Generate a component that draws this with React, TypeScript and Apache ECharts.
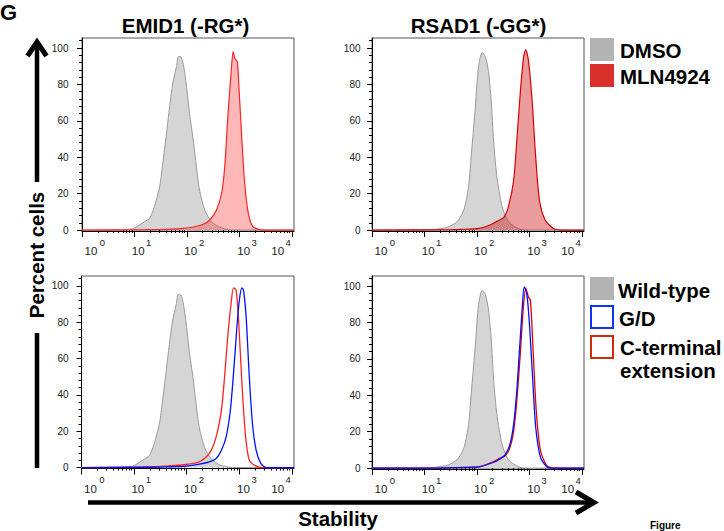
import React, { useEffect, useRef } from "react";
import * as echarts from "echarts";

// ---------- data (x = log10 of fluorescence, y = percent of max) ----------
const emidDmso: number[][] = [
  [0, 0], [0.65, 0], [0.97, 0.8], [1.13, 3.4], [1.19, 4.6], [1.29, 6.5], [1.38, 12.9],
  [1.48, 23.9], [1.54, 36.7], [1.61, 53.2], [1.67, 67.8], [1.73, 80.7], [1.8, 89.8],
  [1.84, 95.3], [1.89, 95], [1.92, 92.5], [1.96, 86], [2.0, 77], [2.05, 64], [2.12, 49.5],
  [2.18, 34.8], [2.24, 22], [2.34, 11], [2.47, 4.6], [2.63, 1.5], [2.88, 0], [4.04, 0],
];
const emidMln: number[][] = [
  [0, 0], [1.2, 0.2], [1.48, 0.3], [1.86, 0.8], [2.12, 1.7], [2.31, 3.2], [2.43, 5.4],
  [2.56, 10.9], [2.66, 20.1], [2.72, 34.8], [2.78, 62.3], [2.84, 86.1], [2.88, 98],
  [2.91, 94.3], [2.96, 92.5], [2.99, 78.8], [3.04, 53.2], [3.1, 25.7], [3.17, 9.2],
  [3.26, 1.8], [3.45, 0], [4.04, 0],
];
const rsadDmso: number[][] = [
  [0, 0], [1.0, 0], [1.17, 0.3], [1.43, 1.5], [1.62, 4.6], [1.75, 11], [1.84, 23.9],
  [1.9, 44], [1.97, 67.8], [2.03, 89.8], [2.1, 97.5], [2.16, 95.3], [2.22, 87],
  [2.27, 71.5], [2.32, 47.7], [2.38, 29.4], [2.48, 12.9], [2.6, 4.6], [2.82, 0.4],
  [3.0, 0], [4.04, 0],
];
const rsadMln: number[][] = [
  [0, 0], [1.43, 0.2], [1.68, 0.4], [2.0, 0.8], [2.19, 2.1], [2.38, 4.8], [2.51, 6.8],
  [2.6, 12.9], [2.7, 27.5], [2.76, 49.5], [2.83, 77], [2.89, 95.3], [2.93, 99],
  [2.98, 93.5], [3.05, 71.5], [3.11, 44], [3.19, 16.6], [3.3, 5.5], [3.46, 0.9],
  [3.65, 0], [4.04, 0],
];
const emidWildType = emidDmso;
const emidCterm: number[][] = [
  [0, 0], [1.17, 0.4], [1.61, 0.8], [1.99, 1.7], [2.24, 3.2], [2.43, 7.7], [2.56, 16.9],
  [2.66, 31.6], [2.72, 50], [2.78, 72], [2.85, 92], [2.89, 99], [2.94, 97.6], [2.99, 79.3],
  [3.05, 46.3], [3.12, 16.9], [3.19, 4.1], [3.32, 0.8], [3.44, 0], [4.04, 0],
];
const emidGD: number[][] = [
  [0, 0], [1.3, 0.2], [1.61, 0.4], [1.99, 0.8], [2.24, 1.9], [2.43, 3.2], [2.56, 5],
  [2.66, 9.6], [2.75, 16.9], [2.83, 31.6], [2.89, 51.8], [2.95, 75.6], [3.0, 92],
  [3.05, 99], [3.08, 97.6], [3.13, 83], [3.19, 50], [3.25, 24.3], [3.32, 9.6],
  [3.41, 2.2], [3.51, 0], [4.04, 0],
];
const rsadWildType = rsadDmso;
const rsadGD: number[][] = [
  [0, 0], [1.17, 0], [1.81, 0.4], [2.06, 0.8], [2.32, 3.2], [2.44, 5], [2.54, 7.4],
  [2.63, 13.2], [2.7, 24.3], [2.76, 42.6], [2.81, 64.6], [2.86, 86.6], [2.9, 99.5],
  [2.95, 95.8], [3.0, 79.3], [3.06, 50], [3.12, 22.4], [3.21, 5.9], [3.33, 0.8],
  [3.46, 0], [4.04, 0],
];
const rsadCterm: number[][] = [
  [0, 0], [1.17, 0], [1.81, 0.4], [2.06, 0.8], [2.32, 3.5], [2.44, 5.5], [2.54, 6.8],
  [2.63, 11.4], [2.7, 20.6], [2.76, 37], [2.83, 64.6], [2.88, 86.6], [2.93, 99],
  [2.98, 94], [3.02, 92], [3.07, 64.6], [3.13, 31.6], [3.21, 9.6], [3.33, 1.3],
  [3.46, 0], [4.04, 0],
];

const titles = ["EMID1 (-RG*)", "RSAD1 (-GG*)"];
const topLegend = ["DMSO", "MLN4924"];
const bottomLegend = ["Wild-type", "G/D", "C-terminal", "extension"];
const xAxisTitle = "Stability";
const yAxisTitle = "Percent cells";

// x tick labels: "10" with a raised exponent
const decades = [0, 1, 2, 3, 4];
const tickBase = "10";
const basePos = [0.17, 1.07, 2.07, 3.08, 3.73];
const expPos = [0.39, 1.27, 2.28, 3.28, 3.93];
const yTicks = [0, 20, 40, 60, 80, 100];
const yMinorTicks = [4, 8, 12, 16, 24, 28, 32, 36, 44, 48, 52, 56, 64, 68, 72, 76, 84, 88, 92, 96, 104];

const X_MAX = 4.04;
const Y_MIN = -0.5;
const Y_MAX = 105.5;
const FONT = '"Liberation Sans", Arial, Helvetica, sans-serif';

const minorX: number[] = [];
for (let d = 0; d < 4; d++) for (let k = 2; k <= 9; k++) minorX.push(d + Math.log10(k));

const grids = [
  { left: 82, top: 38, width: 212, height: 193, lm: 13.5 },
  { left: 372, top: 38, width: 212, height: 193, lm: 11.5 },
  { left: 81.5, top: 276, width: 212.5, height: 192.5, lm: 13 },
  { left: 372, top: 276, width: 212, height: 193, lm: 11.5 },
];

type S = { data: number[][]; line: string; fill?: string; lw?: number };
const panels: S[][] = [
  [
    { data: emidDmso, line: "#9a9a9a", fill: "#d5d5d5" },
    { data: emidMln, line: "#ff2424", fill: "rgba(255,40,40,0.33)", lw: 1.2 },
  ],
  [
    { data: rsadDmso, line: "#9a9a9a", fill: "#d5d5d5" },
    { data: rsadMln, line: "#d80000", fill: "rgba(205,20,20,0.42)", lw: 1.2 },
  ],
  [
    { data: emidWildType, line: "#9a9a9a", fill: "#d5d5d5" },
    { data: emidCterm, line: "#ff2020", lw: 1.3 },
    { data: emidGD, line: "#0010ff", lw: 1.3 },
  ],
  [
    { data: rsadWildType, line: "#9a9a9a", fill: "#d5d5d5" },
    { data: rsadCterm, line: "#e00000", lw: 1.3 },
    { data: rsadGD, line: "#0010ff", lw: 1.3 },
  ],
];

function buildOption(): any {
  const xAxis: any[] = [];
  const yAxis: any[] = [];
  const series: any[] = [];
  grids.forEach((g, i) => {
    // main x axis: decade ticks and the "10" part of the labels
    xAxis.push({
      type: "value", gridIndex: i, min: 0, max: X_MAX, position: "bottom",
      axisLine: { show: true, onZero: false, lineStyle: { color: "#000", width: 1 } },
      axisTick: { show: true, customValues: decades, length: 6, lineStyle: { color: "#000" } },
      axisLabel: {
        show: true, customValues: basePos, margin: 14, color: "#222",
        fontSize: 11.5, fontFamily: FONT,
        formatter: () => tickBase,
      },
      splitLine: { show: false },
    });
    // minor x axis: minor log ticks and the exponents
    xAxis.push({
      type: "value", gridIndex: i, min: 0, max: X_MAX, position: "bottom",
      axisLine: { show: false },
      axisTick: { show: true, customValues: minorX, length: 3, lineStyle: { color: "#000" } },
      axisLabel: {
        show: true, customValues: expPos, margin: 6, color: "#222",
        fontSize: 9.5, fontFamily: FONT,
        formatter: (v: number) => String(decades[Math.round(v)]),
      },
      splitLine: { show: false },
    });
    yAxis.push({
      type: "value", gridIndex: i, min: Y_MIN, max: Y_MAX, position: "left",
      axisLine: { show: true, onZero: false, lineStyle: { color: "#000", width: 1 } },
      axisTick: { show: true, customValues: yTicks, length: 5, lineStyle: { color: "#000" } },
      axisLabel: { show: true, customValues: yTicks, margin: g.lm, fontSize: 10, fontFamily: FONT, color: "#222" },
      splitLine: { show: false },
    });
    yAxis.push({
      type: "value", gridIndex: i, min: Y_MIN, max: Y_MAX, position: "left",
      axisLine: { show: false },
      axisTick: { show: true, customValues: yMinorTicks, length: 3, lineStyle: { color: "#000" } },
      axisLabel: { show: false },
      splitLine: { show: false },
    });
    panels[i].forEach((s, j) => {
      series.push({
        type: "line", xAxisIndex: 2 * i, yAxisIndex: 2 * i, data: s.data,
        showSymbol: false, symbol: "none", smooth: 0.25, z: 2 + j,
        lineStyle: { color: s.line, width: s.lw ?? 1 },
        areaStyle: s.fill ? { color: s.fill, opacity: 1 } : undefined,
      });
    });
  });

  const bold = (text: string, x: number, y: number) => ({
    type: "text", x, y,
    style: { text, fill: "#000", fontSize: 20.5, fontWeight: "bold", fontFamily: FONT, align: "left", verticalAlign: "middle" },
  });

  const graphic: any[] = [
    // panel titles
    { type: "text", x: 185.5, y: 25, style: { text: titles[0], fill: "#000", fontSize: 20.5, fontWeight: "bold", fontFamily: FONT, align: "center", verticalAlign: "middle" } },
    { type: "text", x: 478.5, y: 25, style: { text: titles[1], fill: "#000", fontSize: 20.5, fontWeight: "bold", fontFamily: FONT, align: "center", verticalAlign: "middle" } },
    // panel letter & caption fragment
    { type: "text", x: 0, y: 12, style: { text: "G", fill: "#000", fontSize: 22, fontWeight: "bold", fontFamily: FONT, align: "left", verticalAlign: "middle" } },
    { type: "text", x: 650, y: 525, style: { text: "Figure", fill: "#000", fontSize: 10, fontWeight: "bold", fontFamily: FONT, align: "left", verticalAlign: "middle" } },
    // top legend
    { type: "rect", shape: { x: 590, y: 38, width: 24, height: 23 }, style: { fill: "#b3b3b3" } },
    bold(topLegend[0], 620, 50),
    { type: "rect", shape: { x: 590, y: 64, width: 24, height: 23 }, style: { fill: "#d9302c" } },
    bold(topLegend[1], 620, 76),
    // bottom legend
    { type: "rect", shape: { x: 590, y: 277, width: 24, height: 23 }, style: { fill: "#b3b3b3" } },
    bold(bottomLegend[0], 618, 290),
    { type: "rect", shape: { x: 591, y: 306, width: 22, height: 22 }, style: { fill: "#fff", stroke: "#1030ff", lineWidth: 2 } },
    bold(bottomLegend[1], 619, 318),
    { type: "rect", shape: { x: 591, y: 336, width: 22, height: 22 }, style: { fill: "#fff", stroke: "#d02a10", lineWidth: 2 } },
    bold(bottomLegend[2], 620, 347),
    bold(bottomLegend[3], 620, 370),
    // y arrow
    { type: "line", shape: { x1: 37, y1: 44, x2: 37, y2: 182 }, style: { stroke: "#000", lineWidth: 4.5 } },
    { type: "polyline", shape: { points: [[27.5, 56], [37, 42], [46.5, 56]] }, style: { stroke: "#000", lineWidth: 5, fill: null, lineJoin: "miter" } },
    { type: "line", shape: { x1: 37, y1: 333, x2: 37, y2: 468 }, style: { stroke: "#000", lineWidth: 4.5 } },
    { type: "text", x: 36, y: 255, rotation: Math.PI / 2, style: { text: yAxisTitle, fill: "#000", fontSize: 20.5, fontWeight: "bold", fontFamily: FONT, align: "center", verticalAlign: "middle" } },
    // x arrow
    { type: "line", shape: { x1: 88, y1: 502.5, x2: 594, y2: 502.5 }, style: { stroke: "#000", lineWidth: 4.5 } },
    { type: "polyline", shape: { points: [[576, 492], [594, 502.5], [576, 513]] }, style: { stroke: "#000", lineWidth: 5, fill: null, lineJoin: "miter" } },
    { type: "text", x: 338, y: 518, style: { text: xAxisTitle, fill: "#000", fontSize: 20.5, fontWeight: "bold", fontFamily: FONT, align: "center", verticalAlign: "middle" } },
  ];

  return {
    animation: false,
    backgroundColor: "#fff",
    textStyle: { fontFamily: FONT },
    grid: grids.map((g) => ({
      left: g.left, top: g.top, width: g.width, height: g.height,
      show: true, borderColor: "#555", borderWidth: 1, backgroundColor: "transparent", containLabel: false,
    })),
    xAxis, yAxis, series, graphic,
  };
}

export default function App() {
  const ref = useRef<HTMLDivElement>(null);
  useEffect(() => {
    if (!ref.current) return;
    const chart = echarts.init(ref.current, undefined, { renderer: "svg" });
    chart.setOption(buildOption());
    return () => chart.dispose();
  }, []);
  return (
    <div
      ref={ref}
      style={{ position: "absolute", left: 0, top: 0, width: 724, height: 531, background: "#fff" }}
    />
  );
}
